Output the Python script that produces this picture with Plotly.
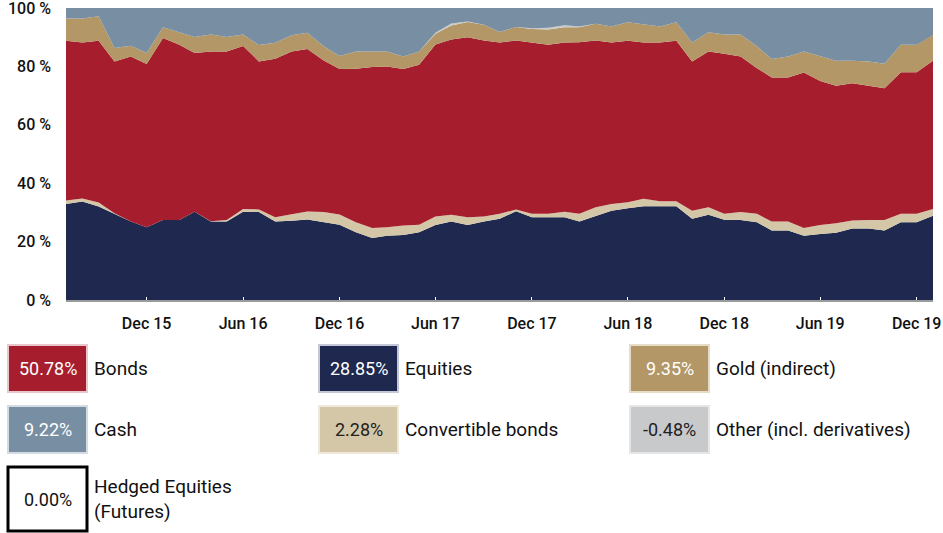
import pandas as pd
import plotly.graph_objects as go

# ---------------- data (shares in %, monthly Jul 2015 .. Jan 2020) ----------------
months = pd.date_range("2015-07-01", periods=55, freq="MS")

equities = [32.9, 33.7, 32.0, 29.5, 26.9, 24.9, 27.4, 27.4, 30.2, 26.9,
            26.9, 30.2, 30.1, 26.9, 27.1, 27.6, 26.6, 25.8, 23.2, 21.2,
            22.0, 22.3, 23.2, 25.7, 26.9, 25.7, 26.9, 27.8, 30.4, 28.3,
            28.3, 28.3, 26.9, 28.9, 30.6, 31.4, 32.1, 32.1, 32.1, 27.8,
            29.2, 27.5, 27.4, 26.6, 23.8, 23.8, 22.0, 22.6, 23.0, 24.5,
            24.5, 23.8, 26.6, 26.6, 28.85]
convertibles = [1.2, 1.1, 1.4, 0.2, 0.0, 0.0, 0.0, 0.0, 0.0, 0.1,
                0.5, 1.0, 0.9, 1.4, 2.3, 2.7, 3.5, 3.5, 3.4, 3.5,
                2.9, 3.2, 2.6, 2.9, 2.3, 2.6, 1.7, 1.7, 0.6, 1.2,
                1.2, 1.9, 2.6, 2.9, 2.3, 2.1, 2.6, 1.7, 1.7, 2.8,
                2.6, 2.0, 2.7, 2.9, 3.1, 3.1, 2.7, 3.1, 3.3, 2.7,
                2.9, 3.6, 2.9, 2.9, 2.28]
bonds = [54.7, 53.4, 55.4, 52.0, 56.5, 55.9, 62.3, 60.0, 54.4, 58.1,
         57.7, 55.8, 50.7, 54.3, 55.7, 55.7, 51.9, 49.8, 52.6, 55.1,
         55.1, 53.6, 54.8, 58.9, 60.0, 61.7, 60.3, 58.7, 57.9, 58.7,
         57.9, 58.0, 58.8, 57.1, 55.3, 55.3, 53.5, 54.4, 55.0, 51.1,
         53.3, 54.8, 53.3, 49.9, 49.3, 49.3, 53.2, 49.3, 47.1, 47.0,
         46.0, 45.1, 48.5, 48.5, 50.78]
gold = [7.6, 8.2, 8.4, 4.6, 3.7, 3.8, 3.7, 4.4, 5.5, 5.8,
        5.0, 3.9, 5.6, 5.5, 5.6, 5.5, 4.9, 4.5, 5.9, 5.3,
        5.1, 4.3, 4.5, 3.7, 4.8, 5.2, 5.4, 3.6, 4.6, 4.6,
        5.2, 5.2, 5.1, 5.7, 5.5, 6.3, 6.1, 5.5, 6.3, 6.5,
        6.6, 6.6, 7.5, 7.5, 6.3, 7.2, 7.2, 8.6, 8.5, 7.7,
        8.3, 8.4, 9.4, 9.4, 9.35]
other = [0.0, 0.0, 0.0, 0.0, 0.0, 0.0, 0.0, 0.0, 0.0, 0.0,
         0.0, 0.0, 0.0, 0.0, 0.0, 0.0, 0.0, 0.0, 0.0, 0.0,
         0.0, 0.0, 0.0, 0.3, 0.7, 0.2, 0.0, 0.0, 0.0, 0.3,
         0.6, 0.7, 0.3, 0.0, 0.0, 0.0, 0.0, 0.0, 0.0, 0.0,
         0.0, 0.0, 0.0, 0.0, 0.0, 0.0, 0.0, 0.0, 0.0, 0.0,
         0.0, 0.0, 0.0, 0.0, -0.48]
cash = [3.6, 3.6, 2.8, 13.7, 12.9, 15.4, 6.6, 8.2, 9.9, 9.1,
        9.9, 9.1, 12.7, 11.9, 9.3, 8.5, 13.1, 16.4, 14.9, 14.9,
        14.9, 16.6, 14.9, 8.5, 5.3, 4.6, 5.7, 8.2, 6.5, 6.9,
        6.8, 5.9, 6.3, 5.4, 6.3, 4.9, 5.7, 6.3, 4.9, 11.8,
        8.3, 9.1, 9.1, 13.1, 17.5, 16.6, 14.9, 16.4, 18.1, 18.1,
        18.3, 19.1, 12.6, 12.6, 9.22]

tick_dates = ["2015-12-01", "2016-06-01", "2016-12-01", "2017-06-01", "2017-12-01",
              "2018-06-01", "2018-12-01", "2019-06-01", "2019-12-01"]
tick_labels = ["Dec 15", "Jun 16", "Dec 16", "Jun 17", "Dec 17",
               "Jun 18", "Dec 18", "Jun 19", "Dec 19"]
y_ticks = [0, 20, 40, 60, 80, 100]
y_labels = ["0 %", "20 %", "40 %", "60 %", "80 %", "100 %"]

legend_names = ["Bonds", "Equities", "Gold (indirect)",
                "Cash", "Convertible bonds", "Other (incl. derivatives)",
                "Hedged Equities<br>(Futures)"]
legend_values = ["50.78%", "28.85%", "9.35%", "9.22%", "2.28%", "-0.48%", "0.00%"]

# ---------------- styles ----------------
C_EQ, C_CONV, C_BOND, C_GOLD, C_OTHER, C_CASH = (
    "#1F284E", "#D4C7A7", "#A61E2E", "#B39767", "#C8C9CB", "#788FA3")
FONT = "Roboto"

fig = go.Figure()
series = [("Equities", equities, C_EQ), ("Convertible bonds", convertibles, C_CONV),
          ("Bonds", bonds, C_BOND), ("Gold (indirect)", gold, C_GOLD),
          ("Other (incl. derivatives)", other, C_OTHER), ("Cash", cash, C_CASH)]
for name, vals, col in series:
    fig.add_trace(go.Scatter(x=months, y=vals, name=name, mode="lines",
                             stackgroup="one", line=dict(width=0, color=col),
                             fillcolor=col, hoverinfo="x+y+name"))

W, H = 943, 533
ML, MR, MT, MB = 66, 10, 8, 233
PW, PH = W - ML - MR, H - MT - MB

def xp(px):
    return (px - ML) / PW

def yp(py):
    return (H - MB - py) / PH

# custom legend boxes
box_fill = [C_BOND, C_EQ, C_GOLD, C_CASH, C_CONV, C_OTHER, "#FFFFFF"]
box_line = ["#E9C6CA", "#C4C7D6", "#E6DCC8", "#D3DCE3", "#EEE8DB", "#E6E6E7", "#000000"]
txt_col = ["#FFFFFF", "#FFFFFF", "#FFFFFF", "#FFFFFF", "#222222", "#222222", "#111111"]
col_x = [8, 319, 630]
rows = [(345, 392), (406, 453), (467, 531)]

shapes = []
annotations = []
for k, (nm, val) in enumerate(zip(legend_names, legend_values)):
    r, c = divmod(k, 3)
    x0 = col_x[c]
    x1 = x0 + 79
    y0, y1 = rows[r]
    lw = 3 if k == 6 else 2
    shapes.append(dict(type="rect", xref="paper", yref="paper",
                       x0=xp(x0), x1=xp(x1), y0=yp(y1), y1=yp(y0),
                       fillcolor=box_fill[k], line=dict(color=box_line[k], width=lw)))
    yc = (y0 + y1) / 2
    annotations.append(dict(xref="paper", yref="paper", x=xp((x0 + x1) / 2), y=yp(yc),
                            text=val, showarrow=False, xanchor="center", yanchor="middle",
                            font=dict(family=FONT, size=18, color=txt_col[k])))
    annotations.append(dict(xref="paper", yref="paper", x=xp(x1 + 5), y=yp(yc),
                            text=nm, showarrow=False, xanchor="left", yanchor="middle",
                            align="left",
                            font=dict(family=FONT, size=19, color="#111111")))

fig.update_layout(
    width=W, height=H,
    margin=dict(l=ML, r=MR, t=MT, b=MB, autoexpand=False),
    paper_bgcolor="white", plot_bgcolor="white",
    showlegend=False,
    shapes=shapes, annotations=annotations,
    font=dict(family=FONT, color="#1a1a1a"),
    xaxis=dict(range=[months[0], months[-1]], tickvals=tick_dates, ticktext=tick_labels,
               showgrid=False, zeroline=False, showline=True, linecolor="#9A9A9A",
               linewidth=2, ticks="inside", tickcolor="#FFFFFF", ticklen=3,
               tickfont=dict(family=FONT, size=16, color="#111111", weight=500),
               ticklabelstandoff=8, ticklabeloverflow="allow", automargin=False),
    yaxis=dict(range=[0, 100], tickmode="array", tickvals=y_ticks, ticktext=y_labels,
               showgrid=False, zeroline=False, showline=False,
               tickfont=dict(family=FONT, size=16, color="#111111", weight=500),
               ticklabelstandoff=14, ticklabeloverflow="allow", automargin=False),
)

fig.write_html("out.html", config={"displayModeBar": False},
               post_script="document.body.style.margin='0';document.body.style.overflow='hidden';")
